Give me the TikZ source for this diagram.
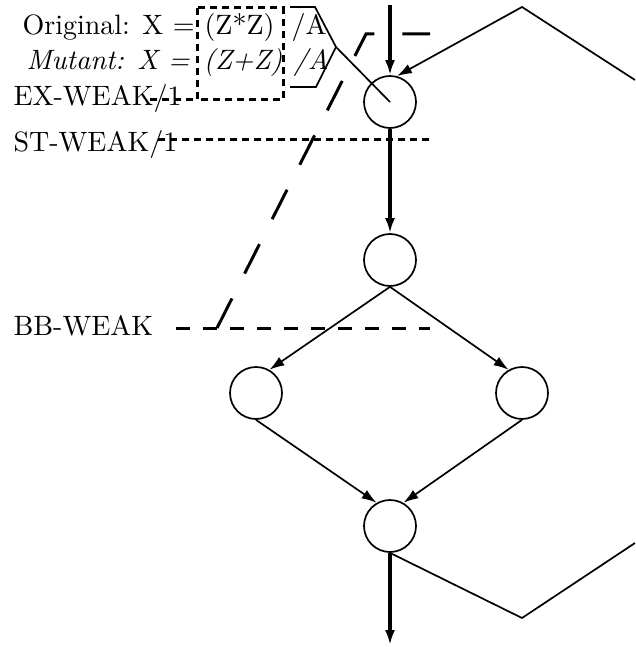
\documentclass[tikz,border=0pt]{standalone}
\usepackage{tikz}
\usetikzlibrary{arrows.meta}

\begin{document}
\begin{tikzpicture}[x=1pt,y=-1pt,>={Latex[length=15pt,width=10pt]},
  every node/.style={font=\fontsize{10}{12}\selectfont},
  label/.style={anchor=base west,inner sep=0pt,scale=2.8},
  state/.style={circle,draw,line width=1.7pt,minimum size=52pt,inner sep=0pt},
  flow/.style={line width=3.5pt},
  edge/.style={line width=1.7pt},
  longdash/.style={line width=3pt,dash pattern=on 14pt off 13pt},
  slantdash/.style={line width=3pt,dash pattern=on 33pt off 28pt},
  shortdash/.style={line width=3pt,dash pattern=on 7pt off 5pt}]
  \useasboundingbox (0,0) rectangle (635,647);
  \node [state] (A) at (390, 102) {};
  \node [state] (B) at (390, 260) {};
  \node [state] (C) at (256, 393) {};
  \node [state] (D) at (522, 393) {};
  \node [state] (E) at (390, 526) {};
  \coordinate (in) at (390, 5);
  \coordinate (out) at (390, 645);
  \coordinate (loopA) at (522, 618);
  \coordinate (loopB) at (635, 543);
  \coordinate (loopC) at (635, 80);
  \coordinate (loopD) at (522, 7);
  \node [label] (orig) at (22, 35) {Original: X =};
  \node [label] (origexpr) at (204, 35) {(Z*Z)};
  \node [label] (origdiv) at (291, 35) {/A};
  \node [label] (mut) at (26, 70) {\textit{Mutant: X =}};
  \node [label] (mutexpr) at (203, 70) {\textit{(Z+Z)}};
  \node [label] (mutdiv) at (293, 70) {\textit{/A}};
  \node [label] (exweak) at (13, 106) {EX-WEAK/1};
  \node [label] (stweak) at (13, 152) {ST-WEAK/1};
  \node [label] (bbweak) at (13, 335) {BB-WEAK};
  \coordinate (boxNW) at (197, 8);
  \coordinate (boxSE) at (283, 100);
  \coordinate (exstart) at (150, 100);
  \coordinate (exend) at (197, 100);
  \coordinate (ststart) at (158, 140);
  \coordinate (stend) at (430, 140);
  \coordinate (bbstart) at (176, 328);
  \coordinate (bbknee) at (217, 328);
  \coordinate (bbend) at (430, 328);
  \coordinate (bbtop) at (366, 34);
  \coordinate (bbtopend) at (430, 34);
  \coordinate (brTop) at (290, 7);
  \coordinate (brTopB) at (315, 7);
  \coordinate (brTip) at (336, 47);
  \coordinate (brBotB) at (316, 87);
  \coordinate (brBot) at (290, 87);
  % criteria lines
  \draw [shortdash] (boxNW) rectangle (boxSE);
  \draw [shortdash] (exstart) -- (exend);
  \draw [shortdash] (ststart) -- (stend);
  \draw [longdash] (bbstart) -- (bbend);
  \draw [slantdash] (bbknee) -- (bbtop) -- (bbtopend);
  \draw [edge] (brTop) -- (brTopB) -- (brTip) -- (brBotB) -- (brBot);
  \draw [edge] (brTip) -- (A.center);
  % flow graph
  \draw [flow,->] (in) -- (A.north);
  \draw [flow,->] (A.south) -- (B.north);
  \draw [flow,->] (E.south) -- (out);
  \draw [edge,->] (B.south) -- (C.60);
  \draw [edge,->] (B.south) -- (D.120);
  \draw [edge,->] (C.south) -- (E.120);
  \draw [edge,->] (D.south) -- (E.60);
  \draw [edge] (E.south) -- (loopA) -- (loopB);
  \draw [edge,->] (loopC) -- (loopD) -- (A.75);
\end{tikzpicture}
\end{document}
